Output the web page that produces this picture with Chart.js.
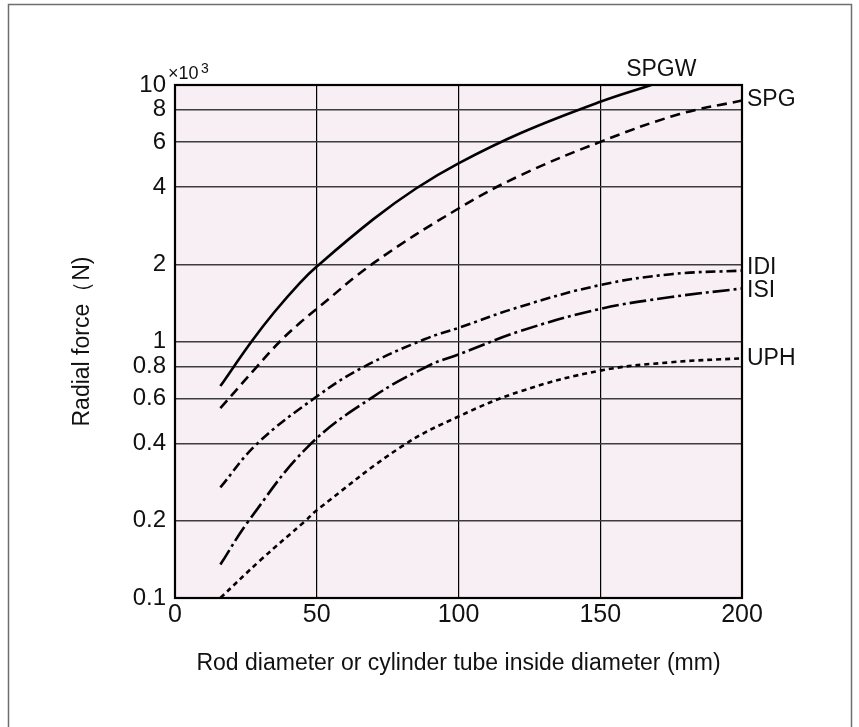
<!DOCTYPE html>
<html>
<head>
<meta charset="utf-8">
<script src="https://cdn.jsdelivr.net/npm/chart.js@4.4.1/dist/chart.umd.min.js"></script>
<style>
    body { margin: 0; background: #fff; }
    canvas { display: block; }
</style>
</head>
<body>
<canvas id="forceChart" width="859" height="727"></canvas>
<script>
// values (x in mm, y in N x 10^3)
const spgwX = [16, 27, 35, 44, 50, 70, 85, 100, 122, 150, 168];
const spgwY = [0.67, 1.0, 1.3, 1.69, 1.96, 3.0, 3.95, 4.95, 6.5, 8.6, 10];

const spgX = [16, 29, 37, 44, 50, 70, 100, 122, 150, 178, 200];
const spgY = [0.55, 0.8, 1.0, 1.18, 1.34, 2.02, 3.3, 4.45, 6.0, 7.7, 8.7];

const idiX = [16, 29, 50, 66, 88, 100, 122, 150, 175, 200];
const idiY = [0.27, 0.4, 0.61, 0.79, 1.02, 1.13, 1.37, 1.66, 1.83, 1.89];

const isiX = [16, 26, 47, 70, 90, 100, 122, 150, 175, 200];
const isiY = [0.135, 0.2, 0.39, 0.61, 0.81, 0.89, 1.1, 1.34, 1.49, 1.61];

const uphX = [16, 30, 46, 50, 80, 100, 122, 150, 175, 200];
const uphY = [0.1, 0.14, 0.2, 0.22, 0.39, 0.51, 0.64, 0.77, 0.83, 0.86];

const seriesNames = ["SPGW", "SPG", "IDI", "ISI", "UPH"];
const yTickValues = [0.1, 0.2, 0.4, 0.6, 0.8, 1, 2, 4, 6, 8, 10];
const xTickValues = [0, 50, 100, 150, 200];

const FONT = "'Liberation Sans', Arial, sans-serif";

function points(xs, ys) {
    return xs.map((x, i) => ({ x: x, y: ys[i] }));
}

function curve(name, xs, ys, dash) {
    return {
        label: name,
        data: points(xs, ys),
        borderColor: "#000",
        borderWidth: 2.6,
        borderDash: dash,
        borderCapStyle: "butt",
        pointRadius: 0,
        fill: false,
        tension: 0.4
    };
}

const paper = {
    id: "paper",
    beforeDraw(chart) {
        const c = chart.ctx;
        const a = chart.chartArea;
        c.save();
        c.fillStyle = "#fff";
        c.fillRect(0, 0, chart.width, chart.height);
        c.strokeStyle = "#6e6e6e";
        c.lineWidth = 1.5;
        c.strokeRect(8.5, 4.5, 843, 800);
        c.fillStyle = "#f7eff4";
        c.fillRect(a.left, a.top, a.right - a.left, a.bottom - a.top);
        c.restore();
    },
    afterDraw(chart) {
        const c = chart.ctx;
        const a = chart.chartArea;
        const xs = chart.scales.x;
        const ys = chart.scales.y;
        c.save();
        c.strokeStyle = "#000";
        c.lineWidth = 2.2;
        c.strokeRect(a.left, a.top, a.right - a.left, a.bottom - a.top);

        c.fillStyle = "#111";
        c.font = "23px " + FONT;
        c.textBaseline = "middle";

        // SPGW sits above the plot, near the end of its curve
        c.textAlign = "center";
        c.fillText("SPGW", xs.getPixelForValue(spgwX[spgwX.length - 1]) + 10, a.top - 15);

        c.textAlign = "left";
        const ends = [[spgY, "SPG", -1], [idiY, "IDI", -3], [isiY, "ISI", 2], [uphY, "UPH", 0]];
        for (const [vals, name, dy] of ends) {
            c.fillText(name, a.right + 5, ys.getPixelForValue(vals[vals.length - 1]) + dy);
        }

        // x10^3 multiplier next to the top tick
        c.font = "18px " + FONT;
        c.fillText("\u00d710", a.left - 7, a.top - 11);
        c.font = "14px " + FONT;
        c.fillText("3", a.left + 26, a.top - 16);
        c.restore();
    }
};

const ctx = document.getElementById("forceChart").getContext("2d");

const chart = new Chart(ctx, {
    type: "line",
    data: {
        datasets: [
            curve(seriesNames[0], spgwX, spgwY, []),
            curve(seriesNames[1], spgX, spgY, [10, 6]),
            curve(seriesNames[2], idiX, idiY, [10, 4, 3, 4]),
            curve(seriesNames[3], isiX, isiY, [17, 4, 3, 4]),
            curve(seriesNames[4], uphX, uphY, [5, 4])
        ]
    },
    options: {
        responsive: false,
        animation: false,
        layout: { padding: { left: 0, right: 117, top: 85, bottom: 0 } },
        plugins: {
            legend: { display: false },
            tooltip: { enabled: false }
        },
        scales: {
            x: {
                type: "linear",
                min: 0,
                max: 200,
                afterBuildTicks: (scale) => {
                    scale.ticks = xTickValues.map(v => ({ value: v }));
                },
                afterFit: (scale) => { scale.height = 129; },
                grid: { color: "#000", lineWidth: 1.2, drawTicks: false },
                border: { display: false },
                ticks: {
                    color: "#111",
                    padding: 2,
                    maxRotation: 0,
                    font: { family: FONT, size: 25 }
                },
                title: {
                    display: true,
                    text: "Rod diameter or cylinder tube inside diameter (mm)",
                    color: "#111",
                    font: { family: FONT, size: 23 },
                    padding: { top: 0, bottom: 50 }
                }
            },
            y: {
                type: "logarithmic",
                min: 0.1,
                max: 10,
                afterBuildTicks: (scale) => {
                    scale.ticks = yTickValues.map(v => ({ value: v }));
                },
                afterFit: (scale) => { scale.width = 175; },
                grid: { color: "#3c3c3c", lineWidth: 1.5, drawTicks: false },
                border: { display: false },
                ticks: {
                    color: "#111",
                    padding: 9,
                    font: { family: FONT, size: 24 },
                    callback: (v) => String(v)
                },
                title: {
                    display: true,
                    text: "Radial force\uff08N)",
                    color: "#111",
                    font: { family: FONT, size: 23 },
                    padding: { top: 69, bottom: 0 }
                }
            }
        }
    },
    plugins: [paper]
});
</script>
</body>
</html>
